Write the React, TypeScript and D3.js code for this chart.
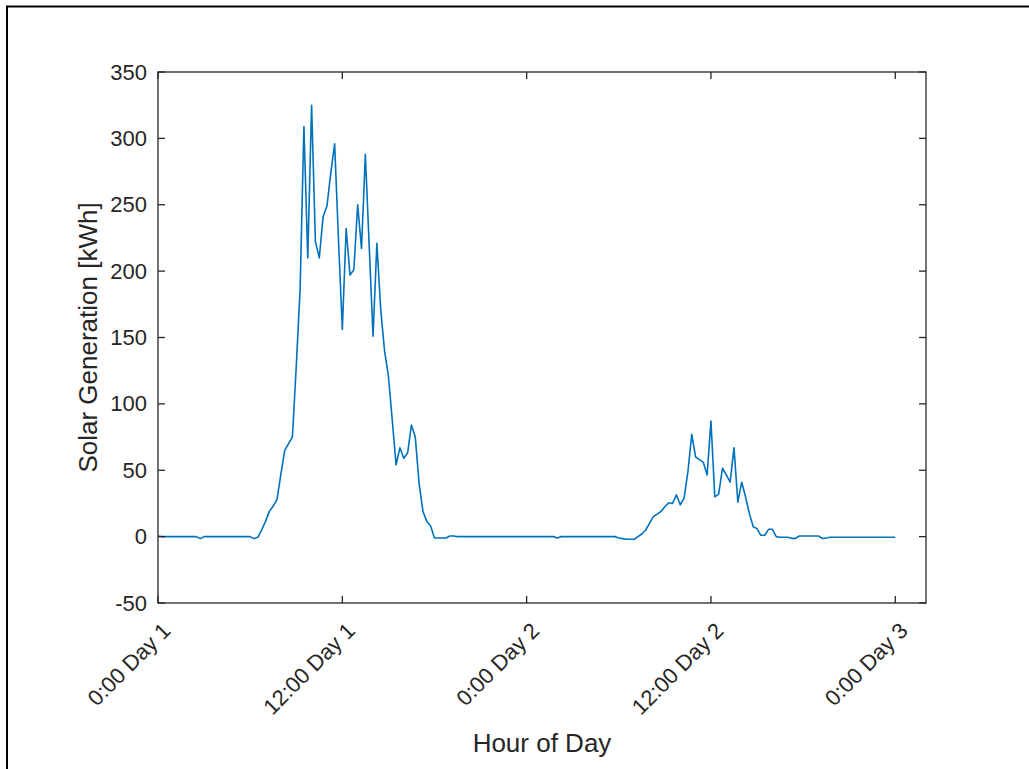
import React from "react";
import * as d3 from "d3";

// Solar generation, 15-minute steps from 0:00 Day 1 to 0:00 Day 3 (kWh)
const stepHours = 0.25;
const solarValues: number[] = [
  // Day 1
  0.5, 0, 0, 0,        // 0h
  0, 0, 0, 0,          // 1h
  0, 0, 0, -1.5,       // 2h
  0, 0, 0, 0,          // 3h
  0, 0, 0, 0,          // 4h
  0, 0, 0, 0,          // 5h
  0, -1.5, -0.5, 5,    // 6h
  11.5, 19, 23, 28,    // 7h
  47, 65, 70, 75,      // 8h
  128, 186, 309, 210,  // 9h
  325, 222, 210, 241,  // 10h
  249, 274, 296, 224,  // 11h
  156, 232, 197, 201,  // 12h
  250, 217, 288, 219,  // 13h
  151, 221, 171, 140,  // 14h
  121, 88, 54, 67,     // 15h
  59, 63, 84, 75,      // 16h
  40, 19, 11.5, 8,     // 17h
  -1, -1, -1, -1,      // 18h
  0.5, 0.5, 0, 0,      // 19h
  0, 0, 0, 0,          // 20h
  0, 0, 0, 0,          // 21h
  0, 0, 0, 0,          // 22h
  0, 0, 0, 0,          // 23h
  // Day 2
  0, 0, 0, 0,          // 24h
  0, 0, 0, 0,          // 25h
  -1, 0, 0, 0,         // 26h
  0, 0, 0, 0,          // 27h
  0, 0, 0, 0,          // 28h
  0, 0, 0, 0,          // 29h
  -1, -1.5, -2, -2,    // 30h
  -2, 0, 2, 5,         // 31h
  10, 15, 17, 19,      // 32h
  22.5, 25.5, 25, 31.5,// 33h
  24, 29, 49, 77,      // 34h
  60, 58, 56, 46.5,    // 35h
  87, 30, 32, 51.5,    // 36h
  46.5, 41, 67, 26,    // 37h
  41, 30, 17.5, 7.5,   // 38h
  6, 1, 1, 5.5,        // 39h
  5.5, 0, -0.5, -0.5,  // 40h
  -0.5, -1.3, -1.3, 0.5, // 41h
  0.5, 0.5, 0.5, 0.5,  // 42h
  0.5, -1.3, -1, -0.5, // 43h
  -0.5, -0.5, -0.5, -0.5, // 44h
  -0.5, -0.5, -0.5, -0.5, // 45h
  -0.5, -0.5, -0.5, -0.5, // 46h
  -0.5, -0.5, -0.5, -0.5, // 47h
  -0.5                 // 48h
];

const xTickHours = [0, 12, 24, 36, 48];
const xTickLabels = ["0:00 Day 1", "12:00 Day 1", "0:00 Day 2", "12:00 Day 2", "0:00 Day 3"];
const yTickValues = [-50, 0, 50, 100, 150, 200, 250, 300, 350];
const xDomain = [0, 50];
const yDomain = [-50, 350];

const W = 1029;
const H = 769;
const plot = { left: 158, top: 72, right: 926, bottom: 603 };
const axisColor = "#262626";
const lineColor = "#0072BD";
const font = "'Liberation Sans', Arial, Helvetica, sans-serif";
const tickFont = 22;
const labelFont = 26;

export default function App() {
  const x = d3.scaleLinear().domain(xDomain).range([plot.left, plot.right]);
  const y = d3.scaleLinear().domain(yDomain).range([plot.bottom, plot.top]);
  const line = d3
    .line<number>()
    .x((_, i) => x(i * stepHours))
    .y((d) => y(d));
  const tickLen = 7;

  return (
    <svg
      width={W}
      height={H}
      style={{ position: "absolute", left: 0, top: 0, background: "#fff" }}
      fontFamily={font}
    >
      <rect x={0} y={0} width={W} height={H} fill="#fff" />
      {/* outer frame */}
      <line x1={6} y1={6.5} x2={W} y2={6.5} stroke="#000" strokeWidth={2} />
      <line x1={7} y1={6} x2={7} y2={H} stroke="#000" strokeWidth={2} />

      {/* data line */}
      <path d={line(solarValues) || ""} fill="none" stroke={lineColor} strokeWidth={1.6} strokeLinejoin="round" />

      {/* axes box */}
      <rect
        x={plot.left}
        y={plot.top}
        width={plot.right - plot.left}
        height={plot.bottom - plot.top}
        fill="none"
        stroke={axisColor}
        strokeWidth={1.3}
      />

      {/* y ticks */}
      {yTickValues.map((v) => (
        <g key={"y" + v}>
          <line x1={plot.left} x2={plot.left + tickLen} y1={y(v)} y2={y(v)} stroke={axisColor} strokeWidth={1.3} />
          <line x1={plot.right} x2={plot.right - tickLen} y1={y(v)} y2={y(v)} stroke={axisColor} strokeWidth={1.3} />
          <text x={plot.left - 11} y={y(v)} textAnchor="end" dominantBaseline="central" fontSize={tickFont} fill={axisColor}>
            {v}
          </text>
        </g>
      ))}

      {/* x ticks */}
      {xTickHours.map((h, i) => (
        <g key={"x" + h}>
          <line x1={x(h)} x2={x(h)} y1={plot.bottom} y2={plot.bottom - tickLen} stroke={axisColor} strokeWidth={1.3} />
          <line x1={x(h)} x2={x(h)} y1={plot.top} y2={plot.top + tickLen} stroke={axisColor} strokeWidth={1.3} />
          <text
            transform={`translate(${x(h) + 14},${plot.bottom + 29}) rotate(-45)`}
            textAnchor="end"
            fontSize={tickFont}
            fill={axisColor}
          >
            {xTickLabels[i]}
          </text>
        </g>
      ))}

      {/* axis labels */}
      <text x={(plot.left + plot.right) / 2} y={752} textAnchor="middle" fontSize={labelFont} fill={axisColor}>
        Hour of Day
      </text>
      <text
        transform={`translate(97,${(plot.top + plot.bottom) / 2}) rotate(-90)`}
        textAnchor="middle"
        fontSize={labelFont}
        fill={axisColor}
      >
        Solar Generation [kWh]
      </text>
    </svg>
  );
}
